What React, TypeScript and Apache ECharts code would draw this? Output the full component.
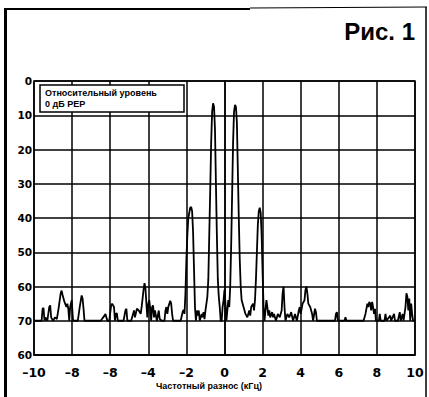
import React, { useEffect, useRef } from "react";
import * as echarts from "echarts";

const xTickLabels = ["–10", "–8", "–8", "–4", "–2", "0", "2", "4", "6", "8", "10"];
const yTickLabels = ["0", "10", "20", "30", "40", "50", "60", "70", "60"];

const freqs = [
  -10, -9.7, -9.6, -9.55, -9.5, -9.45, -9.4, -9.3, -9.2, -9.15, -9.1, -9.0, -8.9, -8.8, -8.7, -8.6, -8.55, -8.5,
  -8.4, -8.3, -8.25, -8.2, -8.15, -8.1, -8.02, -7.95, -7.9, -7.8, -7.7, -7.6, -7.5, -7.45, -7.4, -7.35, -6.8,
  -6.5, -6.3, -6.25, -6.15, -6.05, -5.95, -5.9, -5.8, -5.75, -5.7, -5.65, -5.6, -5.3, -5.2, -5.15, -5.1, -4.9,
  -4.8, -4.75, -4.7, -4.6, -4.5, -4.4, -4.35, -4.25, -4.2, -4.15, -4.1, -4.05, -4.0, -3.95, -3.9, -3.85, -3.8,
  -3.75, -3.7, -3.65, -3.6, -3.55, -3.45, -3.4, -3.3, -3.15, -3.1, -3.05, -3.0, -2.95, -2.85, -2.8, -2.75, -2.7,
  -2.3, -2.2, -2.15, -2.1, -2.05, -2.0, -1.95, -1.9, -1.8, -1.75, -1.7, -1.65, -1.6, -1.55, -1.5, -1.45, -1.4,
  -1.35, -1.3, -1.2, -1.15, -1.1, -1.05, -1.0, -0.95, -0.9, -0.85, -0.8, -0.75, -0.7, -0.65, -0.6, -0.55, -0.5,
  -0.45, -0.4, -0.35, -0.3, -0.25, -0.2, -0.15, -0.1, -0.05, 0.0, 0.05, 0.1, 0.15, 0.2, 0.25, 0.3, 0.35, 0.4,
  0.45, 0.5, 0.55, 0.6, 0.65, 0.7, 0.75, 0.8, 0.85, 0.9, 1.0, 1.1, 1.2, 1.3, 1.35, 1.4, 1.5, 1.55, 1.6, 1.65,
  1.7, 1.75, 1.8, 1.85, 1.9, 1.95, 2.0, 2.05, 2.1, 2.15, 2.2, 2.25, 2.3, 2.35, 2.4, 2.5, 2.55, 2.6, 2.7, 2.8,
  2.9, 3.0, 3.05, 3.1, 3.15, 3.2, 3.3, 3.4, 3.5, 3.6, 3.7, 3.8, 3.9, 3.95, 4.0, 4.1, 4.2, 4.25, 4.3, 4.35, 4.4,
  4.5, 4.6, 4.65, 4.75, 4.8, 4.85, 5.0, 5.5, 5.8, 5.85, 5.9, 5.95, 6.3, 6.35, 6.4, 7.0, 7.3, 7.4, 7.5, 7.55,
  7.6, 7.65, 7.7, 7.75, 7.8, 7.85, 7.9, 7.95, 8.1, 8.15, 8.2, 8.4, 8.45, 8.5, 8.7, 8.75, 8.9, 8.95, 9.1, 9.2,
  9.25, 9.35, 9.4, 9.5, 9.55, 9.6, 9.65, 9.7, 9.75, 9.8, 9.85, 9.9, 10,
];

const levels = [
  70, 70, 70, 66.5, 66.3, 70, 69, 70, 66, 65.5, 69, 70, 69, 69.5, 66, 62, 61.2, 62.5,
  64.5, 66, 65, 66.5, 70, 66, 64, 70, 70, 70, 70, 66, 62.6, 63.5, 66.5, 70, 70,
  70, 68.5, 68, 70, 70, 65.5, 65, 66, 70, 68, 67.8, 70, 70, 67, 66.5, 70, 70,
  68, 67, 69, 66.5, 67, 68, 66, 61, 59, 60.5, 65, 69, 65, 64, 66.5, 70, 66,
  65.5, 69, 67, 68.5, 70, 67, 69.5, 70, 70, 67, 66, 68, 66, 64.2, 65, 68, 70,
  70, 67.5, 66.8, 68, 62, 52, 45, 40, 37, 36.8, 38, 44, 55, 66, 70, 67, 68.5,
  67, 70, 68, 69, 67.5, 69.5, 67, 65, 63, 58, 45, 32, 18, 9, 6.5, 7.5, 14,
  30, 45, 58, 63, 66, 70, 70, 66, 64, 61, 65, 70, 67, 64, 66, 60, 48, 33,
  18, 9, 7, 7.5, 12, 26, 40, 52, 60, 64, 66, 68, 69, 67, 68.5, 66, 65, 67, 64, 58,
  50, 42, 38, 37, 38.5, 45, 56, 66, 70, 67, 64, 66, 68.5, 67, 69, 67.5, 69, 68, 70, 68,
  69, 67, 62, 60, 66, 70, 68, 69, 67.5, 70, 68, 70, 67, 66, 68, 65, 64, 61, 60, 62, 65,
  66, 68, 70, 66.5, 67.5, 70, 70, 70, 70, 68, 67.5, 70, 70, 69, 70, 70, 70, 68, 65, 66,
  64.5, 65, 67, 64.5, 66, 68, 66.5, 70, 70, 68, 70, 70, 68, 70, 68.5, 70, 68, 70, 70, 67.5,
  70, 68, 70, 66, 62, 63, 67, 63.5, 70, 65, 68, 70, 70,
];

const titleText = "Рис. 1";
const legendLines = ["Относительный уровень", "0 дБ PEP"];
const xAxisTitle = "Частотный разнос (кГц)";

const FONT = "'Liberation Sans', Arial, sans-serif";
const TICK_FONT = "'DejaVu Sans', 'Liberation Sans', sans-serif";

export default function App() {
  const ref = useRef<HTMLDivElement>(null);
  useEffect(() => {
    if (!ref.current) return;
    const chart = echarts.init(ref.current, undefined, { renderer: "svg" });
    const data = freqs.map((f, i) => [f, levels[i]]);
    chart.setOption({
      animation: false,
      backgroundColor: "#ffffff",
      grid: { left: 34, right: 14, top: 81, bottom: 42, containLabel: false },
      xAxis: {
        type: "value",
        min: -10,
        max: 10,
        interval: 2,
        axisLine: { show: true, onZero: false, lineStyle: { color: "#000", width: 1.5 } },
        axisTick: { show: false },
        splitLine: { show: true, lineStyle: { color: "#000", width: 1.5 } },
        axisLabel: {
          margin: 11,
          color: "#000",
          fontFamily: TICK_FONT,
          fontWeight: "bold",
          fontSize: 12.5,
          formatter: (v: number) => xTickLabels[Math.round((v + 10) / 2)] ?? "",
        },
      },
      yAxis: {
        type: "value",
        inverse: true,
        min: 0,
        max: 80,
        interval: 10,
        axisLine: { show: true, lineStyle: { color: "#000", width: 1.5 } },
        axisTick: { show: false },
        splitLine: { show: true, lineStyle: { color: "#000", width: 1.5 } },
        axisLabel: {
          margin: 2,
          color: "#000",
          fontFamily: TICK_FONT,
          fontWeight: "bold",
          fontSize: 10.5,
          formatter: (v: number) => yTickLabels[Math.round(v / 10)] ?? "",
        },
      },
      series: [
        {
          type: "line",
          data,
          showSymbol: false,
          symbol: "none",
          lineStyle: { color: "#000", width: 1.8 },
          z: 3,
        },
      ],
      graphic: [
        { type: "rect", shape: { x: 4, y: 8, width: 3, height: 395 }, style: { fill: "#000" }, z: 10 },
        { type: "line", shape: { x1: 5, y1: 9, x2: 250, y2: 9 }, style: { stroke: "#000", lineWidth: 2 }, z: 10 },
        { type: "line", shape: { x1: 250, y1: 8, x2: 427, y2: 7 }, style: { stroke: "#000", lineWidth: 1.2 }, z: 10 },
        { type: "line", shape: { x1: 426, y1: 7, x2: 426, y2: 397 }, style: { stroke: "#000", lineWidth: 1.5 }, z: 10 },
        { type: "rect", shape: { x: 34, y: 81, width: 381, height: 274 }, style: { fill: "none", stroke: "#000", lineWidth: 1.5 }, z: 9 },
        {
          type: "text",
          x: 415,
          y: 31,
          style: { text: titleText, fill: "#000", font: `bold 24px ${FONT}`, align: "right", verticalAlign: "middle" },
          z: 10,
        },
        {
          type: "rect",
          shape: { x: 40, y: 85, width: 144, height: 27 },
          style: { fill: "#fff", stroke: "#000", lineWidth: 1.5 },
          z: 10,
        },
        {
          type: "text",
          x: 45,
          y: 93,
          style: { text: legendLines[0], fill: "#000", font: `bold 9px ${FONT}`, align: "left", verticalAlign: "middle" },
          z: 11,
        },
        {
          type: "text",
          x: 45,
          y: 104,
          style: { text: legendLines[1], fill: "#000", font: `bold 9px ${FONT}`, align: "left", verticalAlign: "middle" },
          z: 11,
        },
        {
          type: "text",
          x: 209,
          y: 386,
          style: { text: xAxisTitle, fill: "#000", font: `bold 9px ${FONT}`, align: "center", verticalAlign: "middle" },
          z: 10,
        },
      ],
    });
    return () => chart.dispose();
  }, []);
  return <div ref={ref} style={{ position: "absolute", left: 0, top: 0, width: 429, height: 397 }} />;
}
